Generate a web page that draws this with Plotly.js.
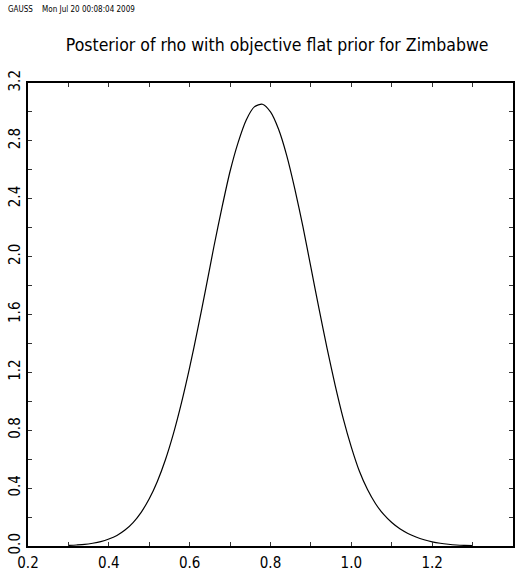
<!DOCTYPE html>
<html>
<head>
<meta charset="utf-8">
<script src="https://cdn.plot.ly/plotly-3.0.1.min.js"></script>
<style>
  html, body { margin: 0; padding: 0; background: #fff; }
  #chart { width: 523px; height: 572px; }
</style>
</head>
<body>
<div id="chart"></div>
<script>
// Posterior density of rho, sampled on a 0.02 grid
const rho = [0.30, 0.32, 0.34, 0.36, 0.38, 0.40, 0.42, 0.44, 0.46, 0.48,
             0.50, 0.52, 0.54, 0.56, 0.58, 0.60, 0.62, 0.64, 0.66, 0.68,
             0.70, 0.72, 0.74, 0.76, 0.78, 0.80, 0.82, 0.84, 0.86, 0.88,
             0.90, 0.92, 0.94, 0.96, 0.98, 1.00, 1.02, 1.04, 1.06, 1.08,
             1.10, 1.12, 1.14, 1.16, 1.18, 1.20, 1.22, 1.24, 1.26, 1.28, 1.30];
const density = [0.004, 0.007, 0.011, 0.019, 0.030, 0.048, 0.073, 0.110, 0.162, 0.233,
                 0.326, 0.446, 0.596, 0.778, 0.992, 1.234, 1.500, 1.780, 2.070, 2.340,
                 2.590, 2.790, 2.945, 3.035, 3.053, 3.000, 2.880, 2.700, 2.470, 2.210,
                 1.925, 1.640, 1.366, 1.110, 0.880, 0.683, 0.516, 0.390, 0.292, 0.218,
                 0.162, 0.119, 0.087, 0.062, 0.043, 0.029, 0.019, 0.012, 0.007, 0.004, 0.002];

// Axis ticks: every 0.1 / 0.2, labels on every other tick
const xTickVals = [0.2, 0.3, 0.4, 0.5, 0.6, 0.7, 0.8, 0.9, 1.0, 1.1, 1.2, 1.3, 1.4];
const xTickText = ['0.2', '', '0.4', '', '0.6', '', '0.8', '', '1.0', '', '1.2', '', '1.4'];
const yTickVals = [0.0, 0.2, 0.4, 0.6, 0.8, 1.0, 1.2, 1.4, 1.6, 1.8, 2.0, 2.2, 2.4, 2.6, 2.8, 3.0, 3.2];
const yTickText = ['0.0', '', '0.4', '', '0.8', '', '1.2', '', '1.6', '', '2.0', '', '2.4', '', '2.8', '', '3.2'];

const chartTitle = 'Posterior of rho with objective flat prior for Zimbabwe';
const stamp = 'GAUSS    Mon Jul 20 00:08:04 2009';

const FONT = 'DejaVu Sans Condensed, DejaVu Sans, sans-serif';

const trace = {
  x: rho,
  y: density,
  type: 'scatter',
  mode: 'lines',
  line: { color: '#000', width: 1.2, shape: 'spline', smoothing: 0.7 },
  hoverinfo: 'skip'
};

const axisCommon = {
  showgrid: false,
  zeroline: false,
  showline: true,
  linecolor: '#000',
  linewidth: 2,
  mirror: 'ticks',
  ticks: 'inside',
  ticklen: 4,
  tickwidth: 1,
  tickcolor: '#333',
  tickmode: 'array',
  tickfont: { family: FONT, size: 15, color: '#000' }
};

const layout = {
  width: 523,
  height: 572,
  margin: { l: 28, r: 10, t: 83, b: 26 },
  paper_bgcolor: '#fff',
  plot_bgcolor: '#fff',
  showlegend: false,
  title: {
    text: chartTitle,
    font: { family: FONT, size: 17.5, color: '#000' },
    x: 0.53, xanchor: 'center',
    y: 0.921, yanchor: 'middle'
  },
  xaxis: Object.assign({}, axisCommon, {
    range: [0.2, 1.4],
    tickvals: xTickVals,
    ticktext: xTickText,
    ticklabelstandoff: 2
  }),
  yaxis: Object.assign({}, axisCommon, {
    range: [0, 3.2],
    tickvals: yTickVals,
    ticktext: yTickText,
    tickangle: -90
  }),
  annotations: [{
    text: stamp,
    xref: 'paper', yref: 'paper',
    x: -0.045, y: 1.158,
    xanchor: 'left', yanchor: 'middle',
    showarrow: false,
    font: { family: FONT, size: 8, color: '#000' }
  }]
};

Plotly.newPlot('chart', [trace], layout, { displayModeBar: false, staticPlot: true });
</script>
</body>
</html>
